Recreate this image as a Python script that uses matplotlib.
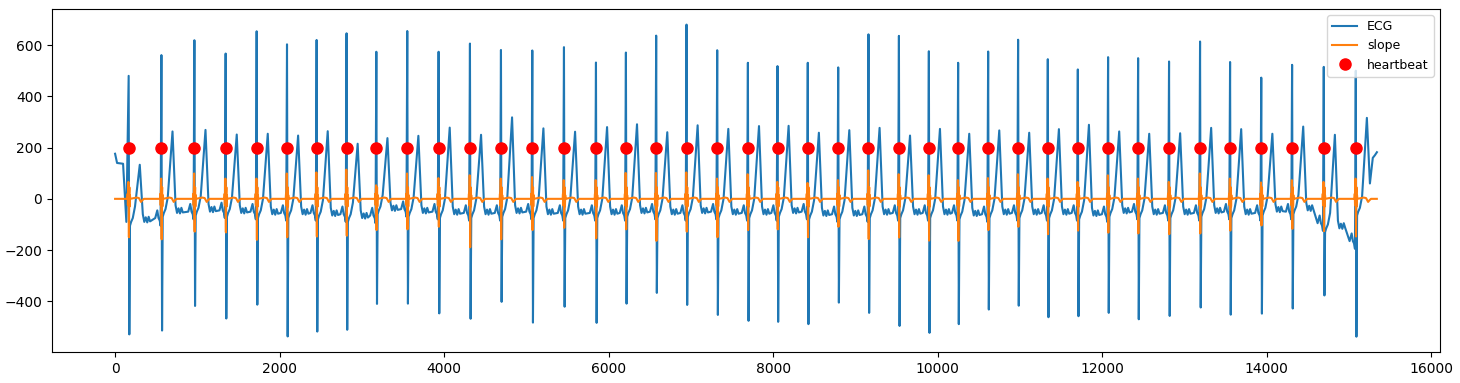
import matplotlib
matplotlib.use("Agg")
import matplotlib.pyplot as plt

# ---- data ----
HEARTBEAT_X = [165, 563, 964, 1344, 1721, 2090, 2450, 2814, 3176, 3552, 3933, 4314,
               4691, 5072, 5457, 5846, 6210, 6578, 6947, 7320, 7693, 8053, 8421,
               8791, 9159, 9529, 9893, 10249, 10614, 10978, 11339, 11704, 12072,
               12437, 12813, 13190, 13555, 13934, 14309, 14694, 15083]
HEARTBEAT_Y = [200] * len(HEARTBEAT_X)

R_PEAK = [480, 561, 619, 567, 654, 603, 620, 646, 574, 655, 574, 606, 581, 579, 592,
          532, 571, 637, 680, 580, 531, 518, 531, 513, 642, 636, 576, 531, 575, 621,
          545, 505, 553, 549, 536, 614, 534, 473, 523, 515, 500]
S_TROUGH = [-529, -514, -418, -467, -413, -537, -518, -511, -410, -409, -447, -468,
            -402, -483, -421, -484, -409, -367, -414, -453, -476, -480, -489, -405,
            -445, -496, -523, -489, -432, -417, -462, -458, -445, -470, -457, -424,
            -452, -448, -428, -377, -538]
T_PEAK = [133, 263, 269, 251, 254, 247, 264, 215, 237, 246, 278, 250, 318, 275, 262,
          280, 291, 260, 287, 273, 284, 285, 258, 268, 277, 247, 273, 254, 267, 258,
          272, 289, 263, 254, 256, 277, 272, 254, 282, 250, 316]
# baseline level after each beat (start / end of the inter-beat segment)
BASE_START = [-80, -45, -40, -45, -50, -50, -55, -65, -35, -45, -50, -50, -45, -50,
              -50, -50, -45, -50, -45, -50, -50, -45, -55, -55, -50, -50, -50, -55,
              -50, -50, -50, -55, -45, -50, -50, -45, -50, -40, -35, -105, -40]
BASE_END = [-70, -45, -40, -45, -50, -50, -55, -60, -35, -45, -50, -50, -45, -50,
            -50, -50, -45, -50, -45, -50, -50, -45, -55, -55, -50, -50, -50, -55,
            -50, -50, -50, -55, -45, -50, -50, -45, -50, -45, -90, -160]
SLOPE_MAX = [66, 79, 99, 79, 79, 99, 103, 114, 53, 99, 81, 92, 79, 85, 73, 73, 101,
             101, 103, 79, 96, 66, 62, 73, 111, 96, 92, 73, 81, 96, 79, 66, 92, 79,
             66, 99, 79, 64, 73, 66, 79]
SLOPE_MIN = [-150, -158, -128, -131, -160, -150, -147, -144, -122, -119, -109, -189,
             -158, -122, -113, -154, -119, -164, -128, -150, -122, -119, -150, -109,
             -157, -151, -163, -164, -122, -109, -138, -124, -132, -135, -138, -135,
             -124, -104, -117, -126, -147]
START_X = [0, 24, 97, 137]
START_Y = [176, 140, 137, -90]
END_X = [15255, 15290, 15315, 15340]
END_Y = [60, 160, 170, 182]
SLOPE_END_X = 15339

# waveform shape (offsets in samples from the R peak, values relative to baseline)
ST_OFF = [16, 30, 50, 77]
ST_REL = [-25, -10, 5, 50]
T_OFF, T_END_OFF, T_END_REL = 135, 172, 20
WIG_OFF = [190, 208, 226, 243, 260]
WIG_REL = [-10, 8, -12, 10, -8]
PRE_OFF = [-75, -50, -35, -20, -10]
PRE_REL = [-5, 25, -5, -15, -35]
S_OFF = 8
SL_OFF = [-16, -12, -9, -6, -3, 0, 3, 6, 9, 12, 15, 20]
SL_T_OFF = [95, 125, 150, 165, 185]
SL_T_VAL = [5, 3, -12, -6, 0]

# ---- build ECG key points ----
ex, ey = list(START_X), list(START_Y)
n = len(HEARTBEAT_X)
for i, r in enumerate(HEARTBEAT_X):
    b = BASE_START[i]
    ex.append(r); ey.append(R_PEAK[i])
    ex.append(r + S_OFF); ey.append(S_TROUGH[i])
    for o, v in zip(ST_OFF, ST_REL):
        ex.append(r + o); ey.append(b + v)
    ex.append(r + T_OFF); ey.append(T_PEAK[i])
    if i < n - 1:
        ex.append(r + T_END_OFF); ey.append(b + T_END_REL)
        for o, v in zip(WIG_OFF, WIG_REL):
            ex.append(r + o); ey.append(b + v)
        nr = HEARTBEAT_X[i + 1]
        be = BASE_END[i]
        for o, v in zip(PRE_OFF, PRE_REL):
            ex.append(nr + o); ey.append(be + v)
    else:
        ex.extend(END_X); ey.extend(END_Y)

# ---- build slope key points ----
sx, sy = [0], [0]
for i, r in enumerate(HEARTBEAT_X):
    vals = [0, 20, -25, 30, SLOPE_MAX[i], -10, SLOPE_MIN[i], 20, 45, -30, 15, 0]
    for o, v in zip(SL_OFF, vals):
        sx.append(r + o); sy.append(v)
    for o, v in zip(SL_T_OFF, SL_T_VAL):
        sx.append(r + o); sy.append(v)
sx.append(SLOPE_END_X); sy.append(0)

# ---- plot ----
fig = plt.figure(figsize=(14.6, 3.83), dpi=100)
ax = fig.add_axes([52 / 1460, 30.7 / 383, 1388 / 1460, 343.3 / 383])
ax.plot(ex, ey, color="tab:blue", lw=1.5, label="ECG")
ax.plot(sx, sy, color="tab:orange", lw=1.5, label="slope")
ax.plot(HEARTBEAT_X, HEARTBEAT_Y, "o", color="red", ms=8, label="heartbeat")
ax.legend(loc="upper right", fontsize=9)
ax.set_xticks([0, 2000, 4000, 6000, 8000, 10000, 12000, 14000, 16000])
ax.set_yticks([-400, -200, 0, 200, 400, 600])
fig.savefig("out.png", dpi=100)
